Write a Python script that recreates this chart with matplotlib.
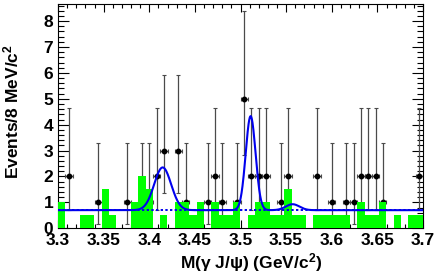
import numpy as np
import matplotlib
matplotlib.use("Agg")
import matplotlib.pyplot as plt
from matplotlib.ticker import MultipleLocator

plt.rcParams['font.family'] = ['Liberation Sans', 'DejaVu Sans']
plt.rcParams['font.weight'] = 'bold'
plt.rcParams['mathtext.fontset'] = 'custom'
plt.rcParams['mathtext.rm'] = 'Liberation Sans:bold'
plt.rcParams['mathtext.it'] = 'Liberation Sans:bold'
plt.rcParams['mathtext.bf'] = 'Liberation Sans:bold'

# ---- data (50 bins of 8 MeV from 3.30 to 3.70 GeV) ----
bin_lo = 3.30
bin_width = 0.008
data_counts = [0, 2, 0, 0, 0, 1, 0, 0, 0, 1,
               0, 1, 1, 2, 3, 0, 3, 1, 0, 0,
               1, 2, 1, 0, 1, 5, 2, 2, 2, 0,
               1, 2, 0, 0, 0, 2, 0, 1, 0, 1,
               1, 2, 2, 2, 1, 0, 0, 0, 0, 2]
sideband = [1, 0, 0, 0.5, 0.5, 0, 1.5, 0.5, 0, 0,
            1, 2, 1.5, 0, 0.5, 0, 1, 1, 0.5, 1,
            0, 1, 0.5, 0.5, 1, 0, 0.5, 1, 1, 0.5,
            0.5, 1.5, 0.5, 0.5, 0, 0.5, 0.5, 0.5, 0.5, 0.5,
            0, 1, 0.5, 0.5, 1, 0, 0.5, 0, 0.5, 0.5]
# Poisson (Garwood) error sizes per observed count
err_low = {1: 0.827, 2: 1.291, 3: 1.633, 5: 2.159}
err_high = {1: 2.299, 2: 2.638, 3: 2.918, 5: 3.382}

# fit: flat background + three peaks (mean, amplitude, sigma)
fit_bkg = 0.70
peak_means = [3.4147, 3.5111, 3.5571]
peak_amps = [1.65, 3.63, 0.23]
peak_sigmas = [0.0093, 0.0054, 0.0075]

x_ticks = [3.3, 3.35, 3.4, 3.45, 3.5, 3.55, 3.6, 3.65, 3.7]
x_tick_labels = ['3.3', '3.35', '3.4', '3.45', '3.5', '3.55', '3.6', '3.65', '3.7']
y_ticks = list(range(0, 9))

# ---- figure ----
W, H = 436, 273
fig = plt.figure(figsize=(W / 100, H / 100), dpi=100)
ax = fig.add_axes([58 / W, (H - 228.3) / H, (423 - 58) / W, (228.3 - 4) / H])

nb = len(data_counts)
centers = bin_lo + bin_width * (np.arange(nb) + 0.5)
counts = np.array(data_counts, dtype=float)
mask = counts > 0
lo = np.array([err_low[int(c)] for c in counts[mask]])
hi = np.array([err_high[int(c)] for c in counts[mask]])

ax.errorbar(centers[mask], counts[mask], xerr=bin_width / 2, yerr=[lo, hi],
            fmt='o', ms=3.2, mfc='black', mec='black', ecolor='#4a4a4a',
            elinewidth=0.9, capsize=1.6, capthick=0.8, zorder=2)

ax.bar(centers, sideband, width=bin_width, color='#00ff00', linewidth=0,
       zorder=3)

xf = np.linspace(3.3, 3.7, 1200)
yf = np.full_like(xf, fit_bkg)
for m, a, s in zip(peak_means, peak_amps, peak_sigmas):
    yf = yf + a * np.exp(-0.5 * ((xf - m) / s) ** 2)
ax.plot(xf, yf, color='#0000ee', lw=1.5, zorder=5)
ax.plot([3.3, 3.7], [fit_bkg, fit_bkg], color='#0000ee', lw=1.4,
        ls=(0, (1.2, 1.2)), zorder=4)

ax.set_xlim(3.3, 3.7)
ax.set_ylim(0, 8.66)
ax.set_xticks(x_ticks)
ax.set_xticklabels(x_tick_labels)
ax.set_yticks(y_ticks)
ax.xaxis.set_minor_locator(MultipleLocator(0.01))
ax.yaxis.set_minor_locator(MultipleLocator(0.2))
ax.tick_params(axis='both', which='both', direction='in', top=True, right=True,
               width=0.8, labelsize=12.5)
ax.tick_params(axis='x', which='major', length=5.5, pad=3.5)
ax.tick_params(axis='x', which='minor', length=2.8)
ax.tick_params(axis='y', which='major', length=7.8, pad=3.5)
ax.tick_params(axis='y', which='minor', length=4.0)
for lab in ax.get_xticklabels() + ax.get_yticklabels():
    lab.set_fontweight('bold')
for sp in ax.spines.values():
    sp.set_linewidth(0.8)

fig.text(251 / W, (H - 263) / H, 'M(γ J/ψ) (GeV/c$^2$)', ha='center', va='center',
         fontsize=12.5, fontweight='bold')
fig.text(11 / W, (H - 112) / H, 'Events/8 MeV/c$^2$', ha='center', va='center',
         rotation=90, fontsize=12.5, fontweight='bold')

fig.savefig('out.png', dpi=100)
